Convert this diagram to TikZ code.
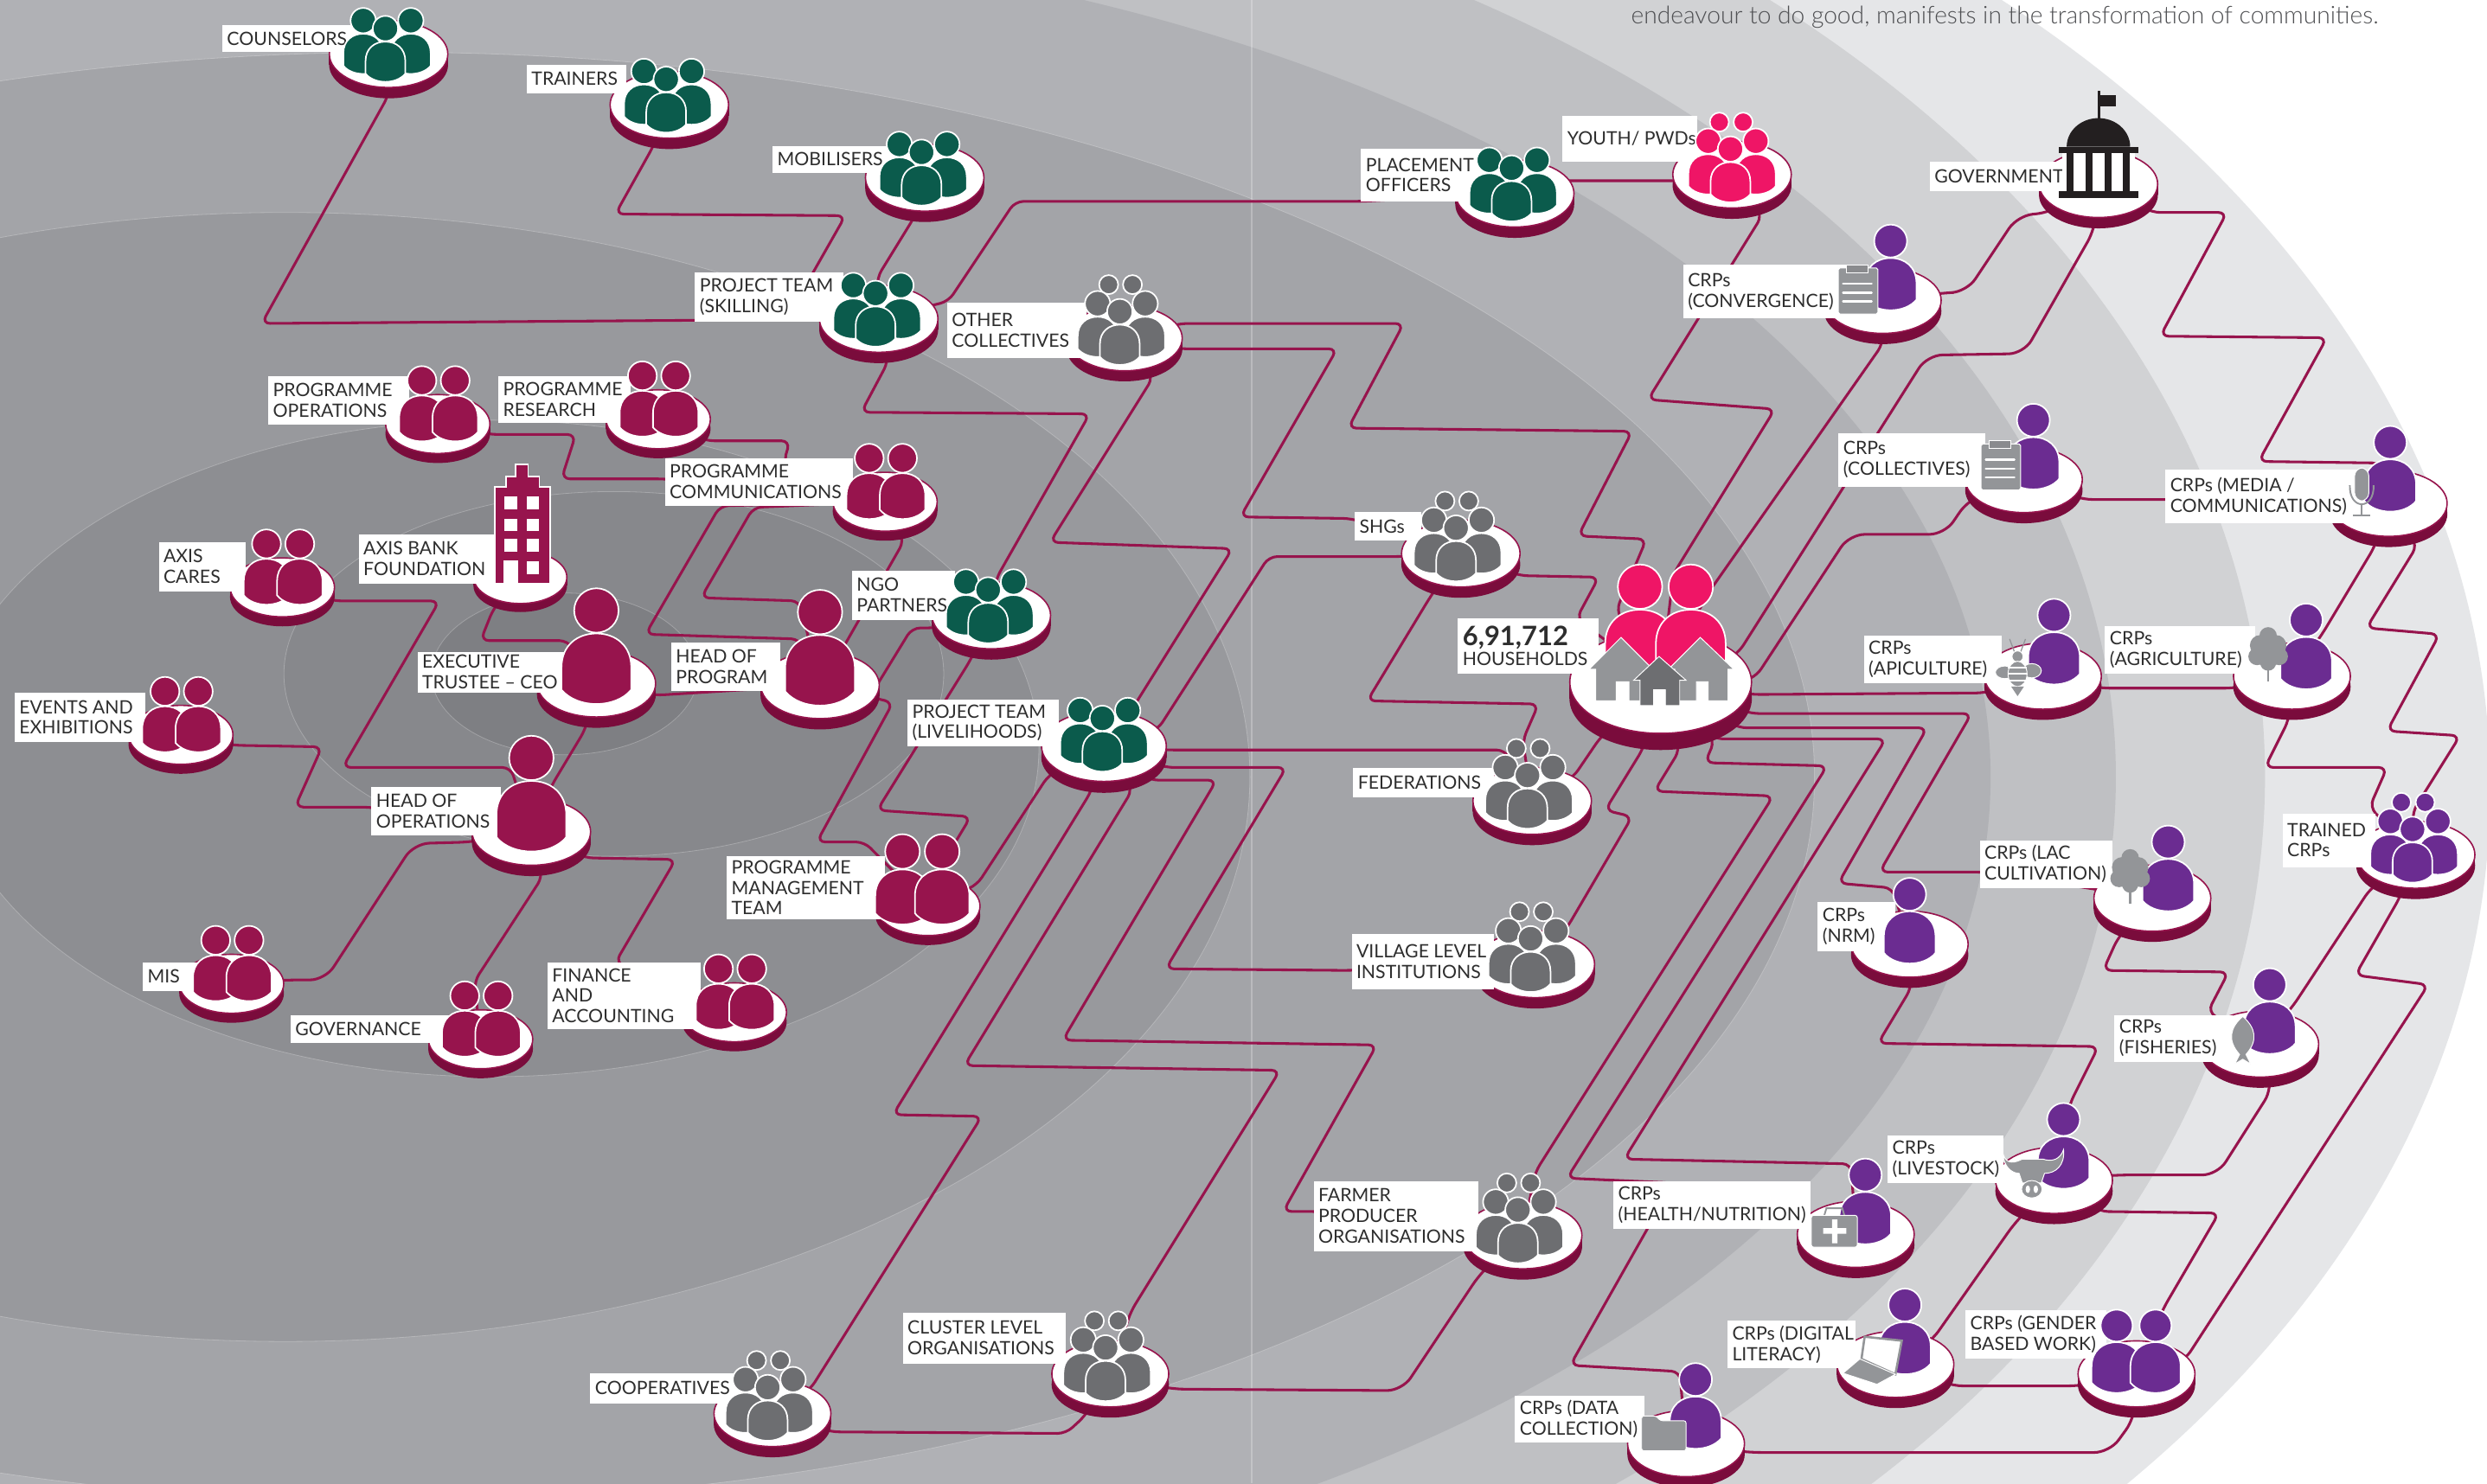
\documentclass[tikz,border=0pt]{standalone}
\usepackage{fontspec}
\setmainfont{Lato}
\newfontfamily\introfont{Lato Light}
\usetikzlibrary{shapes.geometric}
\definecolor{linkred}{HTML}{97144D}
\definecolor{sidered}{HTML}{7A0C3C}
\definecolor{leaf}{HTML}{0B5B4C}
\definecolor{slategrey}{HTML}{6D6E71}
\definecolor{introgrey}{HTML}{4F5053}
\definecolor{lightslate}{HTML}{939598}
\definecolor{hotpink}{HTML}{EF1566}
\definecolor{crppurple}{HTML}{6B2C91}
\definecolor{govblack}{HTML}{231F20}
\definecolor{ringa}{HTML}{E5E6E8}
\definecolor{ringb}{HTML}{D1D2D4}
\definecolor{ringc}{HTML}{BFC0C3}
\definecolor{ringd}{HTML}{B0B1B5}
\definecolor{ringe}{HTML}{A3A4A8}
\definecolor{ringf}{HTML}{98999D}
\definecolor{ringg}{HTML}{8D8E92}
\definecolor{ringh}{HTML}{87888C}
\definecolor{ringi}{HTML}{7E7F83}
\pgfdeclarelayer{rings}
\pgfdeclarelayer{lines}
\pgfsetlayers{rings,lines,main}
\tikzset{
  link/.style={draw=linkred,line width=.95pt,rounded corners=3pt},
  wide link/.style={link,rounded corners=5.5pt},
  ring/.style={draw=white,draw opacity=.25,line width=.25pt},
  discside/.style={fill=sidered},
  disctop/.style={shape=ellipse,fill=white,draw=linkred,line width=.5pt,inner sep=0pt,outer sep=0pt},
  tagfill/.style={fill=white,inner sep=0pt,outer sep=0pt},
  tagtext/.style={font=\fontsize{6.6}{7.37}\selectfont,text=black!82,align=left,inner xsep=1.5pt,inner ysep=0pt,yshift=.1pt},
  iconline/.style={draw=white,line width=.55pt},
  greyicon/.style={fill=lightslate,draw=white,line width=.3pt}
}
\newcommand{\discnode}[4]{%
  \pgfmathsetmacro\discry{#4*0.565}%
  \pgfmathsetmacro\discdp{#4*0.18}%
  \pgfmathsetmacro\disccy{#3-\discdp-\discry}%
  \pgfmathsetmacro\discwd{2*#4*0.5669}%
  \pgfmathsetmacro\discht{2*\discry*0.5669}%
  \fill[discside] ({#2},{#3-\discry}) ellipse[x radius=#4,y radius=\discry];
  \fill[discside] ({#2-#4},\disccy) rectangle ({#2+#4},{#3-\discry});
  \node[disctop,minimum width=\discwd pt,minimum height=\discht pt] (#1) at (#2,\disccy) {};
}
\newcommand{\tagbox}[6]{%
  \pgfmathsetmacro\tagw{(#4-#2)*0.5669}%
  \pgfmathsetmacro\tagh{(#5-#3)*0.5669}%
  \node[tagfill,minimum width=\tagw pt,minimum height=\tagh pt] (#1box) at ({(#2+#4)/2},{(#3+#5)/2}) {};
  \node[tagtext,anchor=west] (#1text) at (#1box.west) {#6};
}
\newcommand{\onePerson}[4]{%
  \begin{scope}[shift={({#1},{#2})},scale=#3]
    \draw[iconline,fill=#4] (0,0) circle[radius=14];
    \draw[iconline,fill=#4] (-22,36) .. controls (-22,22) and (-12,14.5) .. (0,14.5) .. controls (12,14.5) and (22,22) .. (22,36) -- (22,50) .. controls (12,62) and (-12,62) .. (-22,50) -- cycle;
  \end{scope}
}
\newcommand{\crowdThree}[3]{%
  \onePerson{#1-16}{#2-49}{.57}{#3}
  \onePerson{#1+14}{#2-49}{.57}{#3}
  \onePerson{#1-2}{#2-44}{.57}{#3}
}
\newcommand{\crowdFive}[3]{%
  \draw[iconline,fill=#3] ({#1-9},{#2-61}) circle[radius=6];
  \draw[iconline,fill=#3] ({#1+6},{#2-61}) circle[radius=6];
  \crowdThree{#1}{#2}{#3}
}
\newcommand{\duoPeople}[3]{%
  \onePerson{#1-10}{#2-52}{.65}{#3}
  \onePerson{#1+11}{#2-52}{.65}{#3}
}
\newcommand{\clipboardicon}[2]{%
  \begin{scope}[shift={(#1,#2)}]
    \fill[greyicon,rounded corners=.6pt] (0,0) rectangle (25,29);
    \fill[slategrey!80,draw=white,line width=.3pt] (5,-2) rectangle (19,3);
    \foreach \rowy in {10,15.5,21}{\draw[white,line width=.8pt,line cap=round] (3,\rowy) -- (21,\rowy);}
  \end{scope}
}
\newcommand{\treeicon}[2]{%
  \begin{scope}[shift={(#1,#2)}]
    \draw[lightslate,line width=.7pt] (0,0) -- (0,20);
    \fill[lightslate] (0,-9) circle[radius=5.5] (-5,-3) circle[radius=6.5] (5,-3) circle[radius=6.5] (-7,4) circle[radius=5.5] (7,4) circle[radius=5.5] (0,3) circle[radius=8] (0,8) circle[radius=5];
  \end{scope}
}
\begin{document}
\begin{tikzpicture}[x=0.02cm,y=-0.02cm]
\useasboundingbox (0,0) rectangle (1568,935.35);
\begin{pgfonlayer}{rings}
\fill[white] (0,0) rectangle (1568,935.35);
\fill[ringa] (600,497) ellipse[x radius=970,y radius=680];
\fill[ringb] (500,490) ellipse[x radius=928,y radius=655];
\fill[ringc] (420,490) ellipse[x radius=914,y radius=590];
\fill[ringd] (330,490) ellipse[x radius=925,y radius=530];
\filldraw[ring,fill=ringe] (250,490) ellipse[x radius=894,y radius=457];
\filldraw[ring,fill=ringf] (180,490) ellipse[x radius=608,y radius=356];
\filldraw[ring,fill=ringg] (310,472) ellipse[x radius=345,y radius=207];
\filldraw[ring,fill=ringh] (387,425) ellipse[x radius=208,y radius=115];
\filldraw[ring,fill=ringi] (356,425) ellipse[x radius=84,y radius=51];
\draw[white,opacity=.25,line width=.6pt] (789,0) -- (789,935.35);
\end{pgfonlayer}
\node[anchor=west,inner sep=0pt,text=introgrey,font=\introfont\fontsize{8.75}{10}\selectfont] (intro) at (1028,11) {endeavour to do good, manifests in the transformation of communities.};
\discnode{counselors}{245}{62}{37.5}
\tagbox{counselors}{140}{16}{222}{33}{COUNSELORS}
\crowdThree{245}{62}{leaf}
\discnode{trainers}{422}{94}{37.5}
\tagbox{trainers}{332}{41}{395}{59}{TRAINERS}
\crowdThree{422}{94}{leaf}
\discnode{mobilisers}{583}{140}{37.5}
\tagbox{mobilisers}{487}{92}{560}{109}{MOBILISERS}
\crowdThree{583}{140}{leaf}
\discnode{projSkill}{554}{229}{37.5}
\tagbox{projSkill}{438}{172}{532}{203}{PROJECT TEAM\\(SKILLING)}
\crowdThree{554}{229}{leaf}
\discnode{placement}{955}{150}{37.5}
\tagbox{placement}{858}{94}{935}{127}{PLACEMENT\\OFFICERS}
\crowdThree{955}{150}{leaf}
\discnode{ngo}{625}{416}{37.5}
\tagbox{ngo}{537}{360}{602}{391}{NGO\\PARTNERS}
\crowdThree{625}{416}{leaf}
\discnode{projLive}{696}{500}{39.5}
\tagbox{projLive}{572}{441}{668}{471}{PROJECT TEAM\\(LIVELIHOODS)}
\crowdThree{697}{497}{leaf}
\discnode{progOps}{276}{292}{33}
\tagbox{progOps}{169}{237}{258}{268}{PROGRAMME\\OPERATIONS}
\duoPeople{276}{292}{linkred}
\discnode{progRes}{415}{289}{33}
\tagbox{progRes}{314}{237}{398}{267}{PROGRAMME\\RESEARCH}
\duoPeople{415}{289}{linkred}
\discnode{progComm}{558}{341}{33}
\tagbox{progComm}{419}{289}{538}{319}{PROGRAMME\\COMMUNICATIONS}
\duoPeople{558}{341}{linkred}
\discnode{axisCares}{178}{395}{33}
\tagbox{axisCares}{100}{342}{155}{373}{AXIS\\CARES}
\duoPeople{178}{395}{linkred}
\discnode{events}{114}{488}{33}
\tagbox{events}{9}{437}{92}{468}{EVENTS AND\\EXHIBITIONS}
\duoPeople{114}{488}{linkred}
\discnode{mis}{146}{645}{33}
\tagbox{mis}{90}{607}{125}{625}{MIS}
\duoPeople{146}{645}{linkred}
\discnode{governance}{303}{680}{33}
\tagbox{governance}{183}{640}{285}{658}{GOVERNANCE}
\duoPeople{303}{680}{linkred}
\discnode{finance}{463}{663}{33}
\tagbox{finance}{345}{607}{442}{649}{FINANCE\\AND\\ACCOUNTING}
\duoPeople{463}{663}{linkred}
\discnode{progMgmt}{585}{596}{33}
\tagbox{progMgmt}{458}{540}{558}{580}{PROGRAMME\\MANAGEMENT\\TEAM}
\onePerson{569}{537}{.78}{linkred}
\onePerson{594}{537}{.78}{linkred}
\discnode{axisBank}{328}{386}{29.5}
\tagbox{axisBank}{226}{337}{316}{368}{AXIS BANK\\FOUNDATION}
\draw[iconline,fill=linkred] (325,293) -- (333,293) -- (333,300.5) -- (340,300.5) -- (340,307) -- (347,307) -- (347,368) -- (326,368) -- (326,354) -- (318,354) -- (318,368) -- (312,368) -- (312,307) -- (319,307) -- (319,300.5) -- (325,300.5) -- cycle;
\foreach \rowy in {313,327,340}{\fill[white] (318,\rowy) rectangle (326,\rowy+8); \fill[white] (332,\rowy) rectangle (340,\rowy+8);}
\fill[white] (332,354) rectangle (340,362);
\discnode{ceo}{376}{459}{37.5}
\tagbox{ceo}{263}{411}{358}{437}{EXECUTIVE\\TRUSTEE -- CEO}
\onePerson{376}{385}{1}{linkred}
\discnode{headProg}{517}{460}{37.5}
\tagbox{headProg}{423}{405}{492}{436}{HEAD OF\\PROGRAM}
\onePerson{517}{386}{1}{linkred}
\discnode{headOps}{335}{552.5}{37.5}
\tagbox{headOps}{234}{496}{316}{527}{HEAD OF\\OPERATIONS}
\onePerson{335}{478}{1}{linkred}
\discnode{otherColl}{709}{240.5}{36.5}
\tagbox{otherColl}{597}{191}{685}{226}{OTHER\\COLLECTIVES}
\crowdFive{708}{240.5}{slategrey}
\discnode{shgs}{921}{377}{37.5}
\tagbox{shgs}{854}{323}{896}{341}{SHGs}
\crowdFive{920}{377}{slategrey}
\discnode{federations}{966}{533}{37.5}
\tagbox{federations}{853}{484}{942}{503}{FEDERATIONS}
\crowdFive{965}{533}{slategrey}
\discnode{village}{968}{636}{37.5}
\tagbox{village}{852}{589}{942}{624}{VILLAGE LEVEL\\INSTITUTIONS}
\crowdFive{967}{636}{slategrey}
\discnode{fpo}{960}{807}{37.5}
\tagbox{fpo}{828}{745}{932}{789}{FARMER\\PRODUCER\\ORGANISATIONS}
\crowdFive{959}{807}{slategrey}
\discnode{clusterOrg}{700}{894}{37}
\tagbox{clusterOrg}{569}{828}{672}{860}{CLUSTER LEVEL\\ORGANISATIONS}
\crowdFive{699}{894}{slategrey}
\discnode{cooperatives}{487}{919}{37}
\tagbox{cooperatives}{372}{866}{466}{885}{COOPERATIVES}
\crowdFive{486}{919}{slategrey}
\discnode{youth}{1092}{138}{37.5}
\tagbox{youth}{985}{73}{1070}{102}{YOUTH/ PWDs}
\crowdFive{1093}{138}{hotpink}
\discnode{households}{1047}{473}{57.5}
\tagbox{households}{919}{390}{1008}{425}{{\fontsize{9.6}{11}\selectfont\bfseries 6,91,712}\\HOUSEHOLDS}
\onePerson{1034}{370}{1}{hotpink}
\onePerson{1066}{370}{1}{hotpink}
\draw[greyicon] (1002,422) -- (1022,402) -- (1042,422) -- (1038,422) -- (1038,442) -- (1027,442) -- (1027,430) -- (1019,430) -- (1019,442) -- (1006,442) -- (1006,422) -- cycle;
\draw[greyicon] (1052,422) -- (1072,402) -- (1093,422) -- (1089.5,422) -- (1089.5,442) -- (1077,442) -- (1077,430) -- (1069.5,430) -- (1069.5,442) -- (1056,442) -- (1056,422) -- cycle;
\draw[iconline,line width=.3pt,fill=slategrey] (1030,429) -- (1046,414) -- (1063,429) -- (1059,429) -- (1059,445) -- (1050,445) -- (1050,435) -- (1042.5,435) -- (1042.5,445) -- (1034,445) -- (1034,429) -- cycle;
\discnode{government}{1323}{144}{37.5}
\tagbox{government}{1216.5}{102}{1296}{120.5}{GOVERNMENT}
\fill[white] (1300,96) rectangle (1346,122);
\fill[govblack] (1322.5,57) rectangle (1324,76);
\fill[govblack] (1323,60) rectangle (1334,67);
\fill[govblack] (1303,92.5) arc[start angle=180,end angle=360,x radius=20,y radius=18] -- cycle;
\fill[govblack] (1298,92.5) rectangle (1348,96.6);
\fill[govblack] (1298,120.6) rectangle (1348,125);
\foreach \colx in {1303,1315,1327,1338.5}{\fill[govblack] (\colx,96.6) rectangle (\colx+4.2,120.6);}
\discnode{crpConv}{1187}{217}{37}
\tagbox{crpConv}{1061}{167}{1168}{201}{CRPs\\(CONVERGENCE)}
\onePerson{1192}{152}{.74}{crppurple}
\clipboardicon{1159}{169}
\discnode{crpColl}{1276}{330}{37}
\tagbox{crpColl}{1159}{273}{1252}{307}{CRPs\\(COLLECTIVES)}
\onePerson{1282}{265}{.74}{crppurple}
\clipboardicon{1249}{280}
\discnode{crpMedia}{1506}{345}{37}
\tagbox{crpMedia}{1365}{296}{1490}{330}{CRPs (MEDIA /\\COMMUNICATIONS)}
\onePerson{1507}{279}{.74}{crppurple}
\fill[greyicon,rounded corners=3pt] (1484.5,295) rectangle (1493.5,316);
\draw[lightslate,line width=.6pt] (1481.5,306) .. controls (1481,322) and (1497,322) .. (1496.5,306);
\draw[lightslate,line width=.6pt] (1489,318) -- (1489,325);
\draw[lightslate,line width=.6pt] (1483.5,325) -- (1494.5,325);
\discnode{crpApi}{1288}{454}{37}
\tagbox{crpApi}{1175}{401}{1262}{431}{CRPs\\(APICULTURE)}
\onePerson{1295}{388}{.74}{crppurple}
\draw[lightslate,line width=.4pt] (1270,411) -- (1267,403) (1274,411) -- (1277,403);
\fill[greyicon] (1264,424) ellipse[x radius=6,y radius=4];
\fill[greyicon] (1281,423) ellipse[x radius=6,y radius=4.5];
\fill[greyicon] (1272,414) circle[radius=3.5];
\fill[greyicon] (1272,425) ellipse[x radius=6,y radius=8];
\foreach \rowy in {421,425,429}{\draw[white,line width=.6pt] (1266,\rowy) -- (1278,\rowy);}
\fill[lightslate] (1268,433) -- (1276,433) -- (1272,439) -- cycle;
\discnode{crpAgri}{1445}{454}{37}
\tagbox{crpAgri}{1327}{395}{1422}{425}{CRPs\\(AGRICULTURE)}
\onePerson{1454}{391}{.74}{crppurple}
\treeicon{1430}{410}
\discnode{crpLac}{1357}{594}{37}
\tagbox{crpLac}{1248}{530}{1332}{560}{CRPs (LAC\\CULTIVATION)}
\onePerson{1367}{531}{.74}{crppurple}
\treeicon{1343}{550}
\discnode{crpNrm}{1204}{623}{37}
\tagbox{crpNrm}{1146}{569}{1195}{600}{CRPs\\(NRM)}
\onePerson{1204}{564}{.74}{crppurple}
\discnode{crpFish}{1425}{686}{37}
\tagbox{crpFish}{1333}{640}{1408}{670}{CRPs\\(FISHERIES)}
\onePerson{1431}{621}{.74}{crppurple}
\draw[greyicon] (1414,641) .. controls (1406,648) and (1404,656) .. (1412,665) -- (1409,671) -- (1414,668) -- (1419,671) -- (1416,665) .. controls (1424,656) and (1422,648) .. (1414,641) -- cycle;
\discnode{trainedCrp}{1523}{567}{37.5}
\tagbox{trainedCrp}{1439}{513}{1498}{547}{TRAINED\\CRPs}
\crowdFive{1523}{567}{crppurple}
\discnode{crpLive}{1295}{772}{37}
\tagbox{crpLive}{1190}{716}{1263}{746}{CRPs\\(LIVESTOCK)}
\onePerson{1301}{706}{.74}{crppurple}
\draw[greyicon] (1263,728) .. controls (1265,735) and (1271,733) .. (1275,731) -- (1288,731) .. controls (1294,733) and (1299,731) .. (1301,725) .. controls (1302,735) and (1296,740) .. (1289,740) -- (1287,746) -- (1275,746) -- (1273,740) .. controls (1268,740) and (1263,735) .. (1263,728) -- cycle;
\fill[greyicon] (1281,750) ellipse[x radius=6.5,y radius=5.5];
\fill[white] (1278.5,750) ellipse[x radius=1.4,y radius=2.4] (1283.5,750) ellipse[x radius=1.4,y radius=2.4];
\discnode{crpHealth}{1170}{806}{37}
\tagbox{crpHealth}{1017}{745}{1142}{775}{CRPs\\(HEALTH/NUTRITION)}
\onePerson{1176}{741}{.74}{crppurple}
\draw[lightslate,line width=.6pt] (1150,767) -- (1151.5,762) -- (1161.5,762) -- (1163,767);
\fill[greyicon,rounded corners=.8pt] (1142,766.5) rectangle (1171,786.5);
\fill[white] (1155,769) rectangle (1158.5,784) (1149.5,774.5) rectangle (1164,778);
\discnode{crpDigital}{1195}{888}{37}
\tagbox{crpDigital}{1089}{833}{1170}{863}{CRPs (DIGITAL\\LITERACY)}
\onePerson{1201}{823}{.74}{crppurple}
\draw[greyicon,fill=white,draw=lightslate,line width=.8pt] (1175.6,843) -- (1199,845.5) -- (1195,866.7) -- (1173.6,857) -- cycle;
\fill[greyicon] (1162,866) -- (1172.6,857) -- (1195,866.7) -- (1183.4,873) -- cycle;
\discnode{crpGender}{1347}{894}{37}
\tagbox{crpGender}{1239}{826}{1328}{857}{CRPs (GENDER\\BASED WORK)}
\onePerson{1334.5}{836}{.72}{crppurple}
\onePerson{1359}{836}{.72}{crppurple}
\discnode{crpData}{1063}{938}{37}
\tagbox{crpData}{955}{880}{1037}{910}{CRPs (DATA\\COLLECTION)}
\onePerson{1069}{870}{.74}{crppurple}
\fill[greyicon,rounded corners=.8pt] (1035,893) -- (1044,893) -- (1047,896) -- (1063,896) -- (1063,915) -- (1035,915) -- cycle;
\begin{pgfonlayer}{lines}
\draw[link] (counselors.center) -- (245,60) -- (165,204) -- (437,202) -- (projSkill.center);
\draw[link] (trainers.center) -- (412,92) -- (388,135) -- (533,136) -- (508,180) -- (projSkill.center);
\draw[link] (mobilisers.center) -- (577,136) -- (553,175) -- (projSkill.center);
\draw[link] (placement.center) -- (858,127) -- (640,127) -- (598,190) -- (projSkill.center);
\draw[link] (placement.center) -- (975,114) -- (1060,114) -- (youth.center);
\draw[link] (projSkill.center) -- (560,228) -- (543,260) -- (687,261) -- (628,365) -- (ngo.center);
\draw[link] (otherColl.center) -- (727,238) -- (662,342) -- (777,346) -- (712,450) -- (projLive.center);
\draw[link] (otherColl.center) -- (744,204) -- (885,204) -- (850,270) -- (1029,272) -- (995,338) -- (1038,340) -- (1019,385) -- (households.center);
\draw[link] (otherColl.center) -- (744,220) -- (843,220) -- (782,326) -- (852,327) -- (shgs.center);
\draw[link] (shgs.center) -- (883,351) -- (800,351) -- (730,460) -- (projLive.center);
\draw[link] (shgs.center) -- (958,363) -- (1008,364) -- (994,390) -- (households.center);
\draw[link] (shgs.center) -- (902,376) -- (862,442) -- (970,444) -- (960,467) -- (federations.center);
\draw[link] (projLive.center) -- (737,473) -- (949,473) -- (federations.center);
\draw[link] (projLive.center) -- (735,484) -- (811,484) -- (735,611) -- (850,612) -- (village.center);
\draw[link] (projLive.center) -- (725,492) -- (767,492) -- (670,656) -- (868,659) -- (809,764) -- (830,764) -- (fpo.center);
\draw[link] (projLive.center) -- (714,498) -- (608,672) -- (807,675) -- (713,827) -- (clusterOrg.center);
\draw[link] (projLive.center) -- (688,499) -- (563,703) -- (619,704) -- (511,876) -- (cooperatives.center);
\draw[link] (projLive.center) -- (661,489) -- (616,558) -- (progMgmt.center);
\draw[link] (ngo.center) -- (612,416) -- (553,511) -- (612,515) -- (600,535) -- (progMgmt.center);
\draw[link] (ngo.center) -- (590,396) -- (575,396) -- (545,445) -- (headProg.center);
\draw[link] (headProg.center) -- (563,443) -- (515,531) -- (545,531) -- (progMgmt.center);
\draw[link] (progOps.center) -- (309,274) -- (363,274) -- (354,302) -- (419,302) -- (progComm.center);
\draw[link] (progRes.center) -- (445,278) -- (498,278) -- (494,292) -- (progComm.center);
\draw[link] (progComm.center) -- (454,319) -- (407,400) -- (504,403) -- (headProg.center);
\draw[link] (progComm.center) -- (475,320) -- (442,377) -- (504,379) -- (headProg.center);
\draw[link] (progComm.center) -- (570,341) -- (525,420) -- (headProg.center);
\draw[link] (axisCares.center) -- (211,379) -- (277,379) -- (216,484) -- (322,484) -- (headOps.center);
\draw[link] (axisBank.center) -- (311,384) -- (303,404) -- (358,404) -- (ceo.center);
\draw[link] (ceo.center) -- (369,460) -- (348,495) -- (headOps.center);
\draw[link] (ceo.center) -- (413,438.5) -- (headProg.center);
\draw[link] (events.center) -- (147,470) -- (203,471) -- (186,509) -- (233,509) -- (headOps.center);
\draw[wide link] (mis.center) -- (179,618) -- (205,618) -- (261,532) -- (298,531) -- (headOps.center);
\draw[link] (headOps.center) -- (342,553) -- (299,619) -- (governance.center);
\draw[link] (headOps.center) -- (369,541) -- (426,542) -- (388,607) -- (finance.center);
\draw[link] (cooperatives.center) -- (524,903) -- (672,904) -- (684,893) -- (clusterOrg.center);
\draw[wide link] (clusterOrg.center) -- (737,876) -- (884,877) -- (934,802) -- (fpo.center);
\draw[link] (federations.center) -- (992,490) -- (1009,465) -- (households.center);
\draw[link] (households.center) -- (1036,472) -- (1012,511) -- (1029,515) -- (988,585) -- (village.center);
\draw[link] (households.center) -- (1059,473) -- (1043,499) -- (1118,502) -- (968,739) -- (fpo.center);
\draw[link] (households.center) -- (1081,467) -- (1075,481) -- (1152,483) -- (988,743) -- (1055,746) -- (990,861) -- (1059,865) -- (crpData.center);
\draw[link] (households.center) -- (1081,466) -- (1189,466) -- (1024,731) -- (1167,734) -- (crpHealth.center);
\draw[link] (households.center) -- (1096,459) -- (1215,459) -- (1159,557) -- (1193,560) -- (crpNrm.center);
\draw[link] (households.center) -- (1104,450) -- (1243,450) -- (1185,550) -- (1252,550) -- (crpLac.center);
\draw[link] (households.center) -- (1105,438) -- (1251,437) -- (crpApi.center);
\draw[link] (youth.center) -- (1111,136) -- (1039,252) -- (1119,258) -- (1055,362) -- (households.center);
\draw[link] (crpConv.center) -- (1187,217) -- (1077,374) -- (households.center);
\draw[wide link] (crpConv.center) -- (1222,185) -- (1240,184) -- (1272,136) -- (1293,134) -- (government.center);
\draw[wide link] (government.center) -- (1321,144) -- (1276,223) -- (1215,224) -- (1094,415) -- (households.center);
\draw[wide link] (crpColl.center) -- (1241,315) -- (1226,337) -- (1166,337) -- (1105,430) -- (households.center);
\draw[link] (crpColl.center) -- (1314,315) -- (1362,315) -- (crpMedia.center);
\draw[link] (government.center) -- (1357,134) -- (1404,134) -- (1362,212) -- (1467,213) -- (1424,291) -- (1501,292) -- (crpMedia.center);
\draw[link] (crpMedia.center) -- (1497,345) -- (1464,400) -- (crpAgri.center);
\draw[link] (crpMedia.center) -- (1524,344) -- (1492,396) -- (1538,400) -- (1505,461) -- (1551,464) -- (1521,512) -- (trainedCrp.center);
\draw[link] (crpApi.center) -- (1325,434) -- (1408,434) -- (crpAgri.center);
\draw[link] (crpAgri.center) -- (1443,454) -- (1428,484) -- (1505,484) -- (1494,509) -- (trainedCrp.center);
\draw[link] (trainedCrp.center) -- (1494,561) -- (1446,634) -- (crpFish.center);
\draw[link] (trainedCrp.center) -- (1513,566) -- (1485,615) -- (1531,621) -- (1378,857) -- (crpGender.center);
\draw[link] (crpLac.center) -- (1335,592) -- (1326,612) -- (1405,613) -- (1392,638) -- (crpFish.center);
\draw[link] (crpNrm.center) -- (1205,623) -- (1184,658) -- (1323,660) -- (1305,696) -- (crpLive.center);
\draw[wide link] (crpFish.center) -- (1433,686) -- (1398,741) -- (1333,741) -- (crpLive.center);
\draw[link] (crpLive.center) -- (1324,764) -- (1399,765) -- (1364,825) -- (crpGender.center);
\draw[link] (crpLive.center) -- (1269,773) -- (1219,844) -- (crpDigital.center);
\draw[link] (crpDigital.center) -- (1232,874) -- (1310,874) -- (crpGender.center);
\draw[wide link] (crpData.center) -- (1101,916) -- (1330,916) -- (1346,894) -- (crpGender.center);
\end{pgfonlayer}
\end{tikzpicture}
\end{document}
